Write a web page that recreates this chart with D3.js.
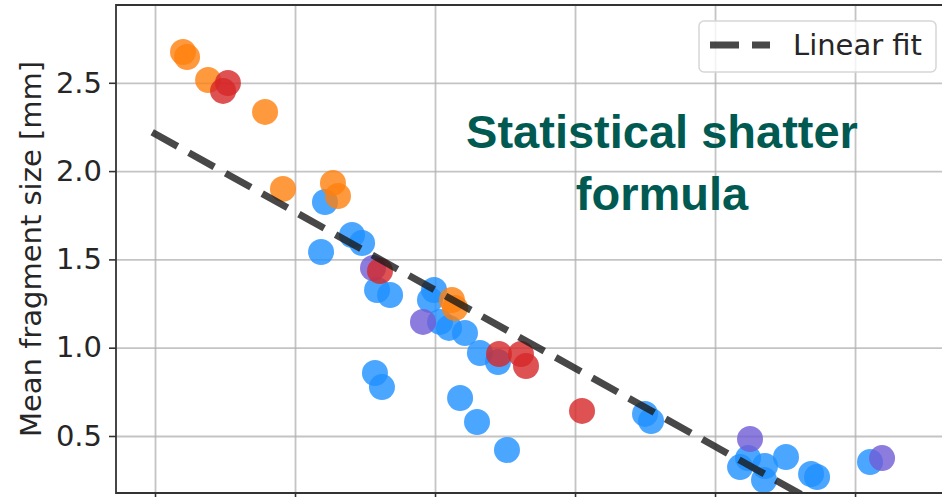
<!DOCTYPE html>
<html>
<head>
<meta charset="utf-8">
<script src="https://cdn.jsdelivr.net/npm/d3@7"></script>
<style>
  body { margin: 0; background: #fff; }
  text { font-family: "DejaVu Sans", sans-serif; }
</style>
</head>
<body>
<div id="chart"></div>
<script>
const width = 942, height = 497;

// scatter groups, x in grid units (labels cut off in the picture), y in mm
const blueX = [2.214, 2.186, 2.407, 2.479, 2.586, 2.679, 2.571, 2.621, 2.993, 2.964, 3.036, 3.100, 3.214, 3.321, 3.450, 3.179, 3.300, 3.514, 4.500, 4.543, 5.179, 5.236, 5.357, 5.350, 5.507, 5.686, 5.729, 6.107];
const blueY = [1.825, 1.542, 1.638, 1.593, 1.327, 1.298, 0.857, 0.777, 1.327, 1.270, 1.146, 1.112, 1.083, 0.970, 0.919, 0.715, 0.579, 0.421, 0.625, 0.585, 0.324, 0.375, 0.330, 0.251, 0.381, 0.285, 0.268, 0.353];
const purpleX = [2.557, 2.914, 5.250, 6.193];
const purpleY = [1.451, 1.146, 0.483, 0.375];
const orangeX = [1.200, 1.229, 1.379, 1.786, 1.914, 2.271, 2.307, 3.121, 3.143];
const orangeY = [2.674, 2.646, 2.516, 2.335, 1.899, 1.933, 1.859, 1.270, 1.225];
const redX = [1.521, 1.486, 2.607, 3.457, 3.614, 3.650, 4.050];
const redY = [2.499, 2.454, 1.434, 0.964, 0.964, 0.896, 0.642];

const fitX = [0.98, 6.2];
const fitY = [2.22, -0.09];

const yTicks = [0.5, 1.0, 1.5, 2.0, 2.5];
const xTicks = [1, 2, 3, 4, 5, 6];

const groups = [
    { xs: blueX, ys: blueY, color: "#1e90ff" },
    { xs: purpleX, ys: purpleY, color: "#6f5bd6" },
    { xs: orangeX, ys: orangeY, color: "#ff7f0e" },
    { xs: redX, ys: redY, color: "#d62728" }
];

const margin = { left: 116, top: 5, right: 990, bottom: 493 };

const x = d3.scaleLinear().domain([0.7214, 6.964]).range([margin.left, margin.right]);
const y = d3.scaleLinear().domain([0.1772, 2.9405]).range([margin.bottom, margin.top]);

const svg = d3.select("#chart").append("svg")
    .attr("width", width)
    .attr("height", height);

svg.append("defs").append("clipPath").attr("id", "plot-clip")
    .append("rect")
    .attr("x", margin.left).attr("y", margin.top)
    .attr("width", margin.right - margin.left)
    .attr("height", margin.bottom - margin.top);

// grid
const gridX = svg.append("g")
    .attr("transform", `translate(0,${margin.bottom})`)
    .call(d3.axisBottom(x).tickValues(xTicks).tickSize(-(margin.bottom - margin.top)).tickFormat(""));
const gridY = svg.append("g")
    .attr("transform", `translate(${margin.left},0)`)
    .call(d3.axisLeft(y).tickValues(yTicks).tickSize(-(margin.right - margin.left)).tickFormat(""));
[gridX, gridY].forEach(gr => {
    gr.select(".domain").remove();
    gr.selectAll("line").attr("stroke", "#b0b0b0").attr("stroke-width", 1.8).attr("opacity", 0.75);
});

// points
const plot = svg.append("g").attr("clip-path", "url(#plot-clip)");
groups.forEach(gp => {
    plot.append("g")
        .selectAll("circle")
        .data(d3.range(gp.xs.length))
        .enter().append("circle")
        .attr("cx", i => x(gp.xs[i]))
        .attr("cy", i => y(gp.ys[i]))
        .attr("r", 13)
        .attr("fill", gp.color)
        .attr("fill-opacity", 0.8);
});

// linear fit
const line = d3.line().x(d => x(d[0])).y(d => y(d[1]));
plot.append("path")
    .datum(fitX.map((v, i) => [v, fitY[i]]))
    .attr("d", line)
    .attr("fill", "none")
    .attr("stroke", "#1a1a1a")
    .attr("stroke-opacity", 0.8)
    .attr("stroke-width", 7)
    .attr("stroke-dasharray", "29,13");

// axes
const yAxis = svg.append("g")
    .attr("transform", `translate(${margin.left},0)`)
    .call(d3.axisLeft(y).tickValues(yTicks).tickSize(7).tickPadding(7).tickFormat(d3.format(".1f")));
yAxis.selectAll("text").attr("font-size", 29).attr("fill", "#262626");
yAxis.selectAll("line").attr("stroke", "#333").attr("stroke-width", 1.6);
yAxis.select(".domain").remove();

const xAxis = svg.append("g")
    .attr("transform", `translate(0,${margin.bottom})`)
    .call(d3.axisBottom(x).tickValues(xTicks).tickSize(7).tickFormat(""));
xAxis.selectAll("line").attr("stroke", "#333").attr("stroke-width", 1.6);
xAxis.select(".domain").remove();

// spines
svg.append("path")
    .attr("d", `M${margin.right},${margin.top}H${margin.left}V${margin.bottom}H${margin.right}`)
    .attr("fill", "none")
    .attr("stroke", "#333")
    .attr("stroke-width", 1.8);

svg.append("text")
    .attr("transform", `translate(41,${(margin.top + margin.bottom) / 2}) rotate(-90)`)
    .attr("text-anchor", "middle")
    .attr("font-size", 29)
    .attr("fill", "#262626")
    .text("Mean fragment size [mm]");

// legend
const legend = svg.append("g");
legend.append("rect")
    .attr("x", 699).attr("y", 21)
    .attr("width", 237).attr("height", 51)
    .attr("rx", 5)
    .attr("fill", "#fff").attr("fill-opacity", 0.8)
    .attr("stroke", "#d6d6d6").attr("stroke-width", 1.5);
legend.append("line")
    .attr("x1", 710).attr("x2", 770)
    .attr("y1", 45).attr("y2", 45)
    .attr("stroke", "#1a1a1a").attr("stroke-opacity", 0.8)
    .attr("stroke-width", 7)
    .attr("stroke-dasharray", "29,13");
legend.append("text")
    .attr("x", 793).attr("y", 55)
    .attr("font-size", 29)
    .attr("fill", "#262626")
    .text("Linear fit");

// annotation
const note = svg.append("text")
    .attr("text-anchor", "middle")
    .style("font-family", "'Liberation Sans', Arial, sans-serif")
    .attr("font-weight", "bold")
    .attr("font-size", 47)
    .attr("fill", "#005a52");
note.append("tspan").attr("x", 662).attr("y", 148).text("Statistical shatter");
note.append("tspan").attr("x", 662).attr("y", 210).text("formula");
</script>
</body>
</html>
